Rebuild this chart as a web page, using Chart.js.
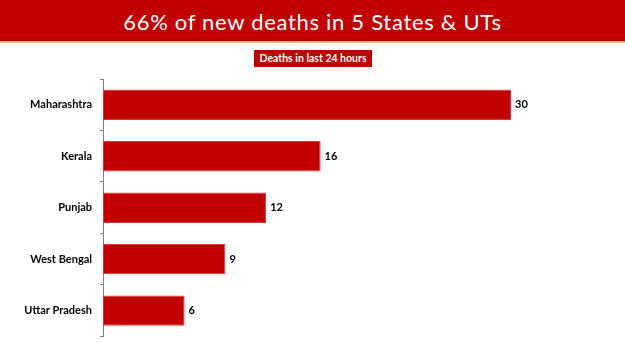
<!DOCTYPE html>
<html><head><meta charset="utf-8">
<script src="https://cdn.jsdelivr.net/npm/chart.js@4/dist/chart.umd.min.js"></script>
<style>
html,body{margin:0;padding:0;background:#fff;width:625px;height:351px;overflow:hidden;}
#banner{position:absolute;left:0;top:0;width:625px;height:41px;background:#C00000;border-bottom:2px solid #F4B183;color:#fff;font-family:Lato,"Open Sans",sans-serif;font-size:22px;letter-spacing:0.7px;text-align:center;line-height:43px;white-space:nowrap;}
#sub{position:absolute;left:254px;top:50px;width:118px;height:17px;background:#C00000;color:#fff;font-family:Lato,"Open Sans",sans-serif;font-weight:bold;font-size:10.5px;text-align:center;line-height:17px;white-space:nowrap;}
#wrap{position:absolute;left:0;top:0;width:625px;height:351px;}
</style></head>
<body>
<div id="wrap"><canvas id="c" width="625" height="351"></canvas></div>
<div id="banner">66% of new deaths in 5 States &amp; UTs</div>
<div id="sub">Deaths in last 24 hours</div>
<script>
const categories = ["Maharashtra","Kerala","Punjab","West Bengal","Uttar Pradesh"];
const deaths = [30,16,12,9,6];

const valueLabels = {
  id:'valueLabels',
  afterDatasetsDraw(chart){
    const ctx = chart.ctx;
    const meta = chart.getDatasetMeta(0);
    ctx.save();
    ctx.fillStyle = '#000';
    ctx.font = 'bold 11px Lato, "Open Sans", sans-serif';
    ctx.textAlign = 'left';
    ctx.textBaseline = 'middle';
    meta.data.forEach((bar,i)=>{
      ctx.fillText(String(deaths[i]), bar.x + 4, bar.y);
    });
    ctx.restore();
  }
};

new Chart(document.getElementById('c'), {
  type:'bar',
  data:{labels:categories, datasets:[{data:deaths, backgroundColor:'#C00000', borderColor:'#D2393A', borderWidth:1, borderSkipped:false, barPercentage:0.59, categoryPercentage:1}]},
  options:{
    indexAxis:'y',
    responsive:false,
    animation:false,
    layout:{padding:{top:79, left:0, right:46, bottom:9}},
    plugins:{legend:{display:false}, tooltip:{enabled:false}},
    scales:{
      x:{display:false, min:0, max:35},
      y:{
        afterFit(s){ s.width = 103; },
        grid:{drawOnChartArea:false, drawTicks:true, tickLength:3, color:'#7f7f7f', offset:true},
        border:{display:true, color:'#7f7f7f', width:1},
        ticks:{color:'#000', padding:8, font:{family:'Lato, "Open Sans", sans-serif', weight:'bold', size:11}}
      }
    }
  },
  plugins:[valueLabels]
});
</script>
</body></html>
